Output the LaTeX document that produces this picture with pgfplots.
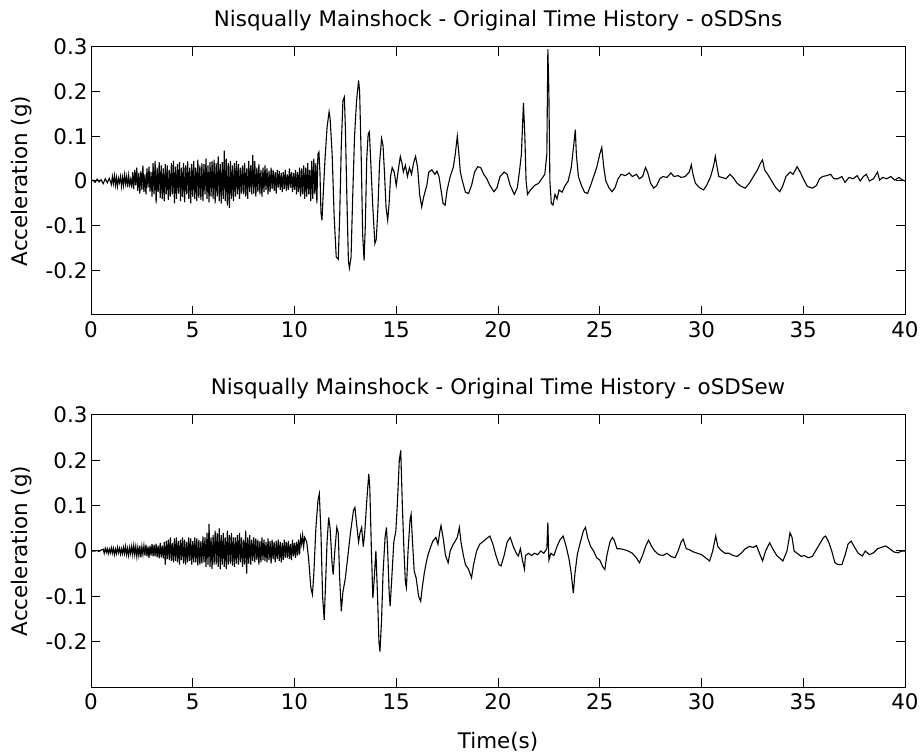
\documentclass[border=0pt]{standalone}
\usepackage{fontspec}
\setmainfont{DejaVu Sans}
\usepackage{pgfplots}
\pgfplotsset{compat=1.18}

\newcommand{\mfont}{\fontsize{21.5}{25}\selectfont}

\pgfplotsset{
  quake/.style={
    scale only axis, width=814bp, anchor=south west,
    xmin=0, xmax=40, ymin=-0.3, ymax=0.3,
    xtick={0,5,...,40}, ytick={-0.2,-0.1,0,0.1,0.2,0.3},
    axis line style={line width=1bp},
    tick align=inside, major tick length=9bp,
    tick style={draw=black, line width=1bp},
    tick label style={font=\mfont},
    /pgf/number format/assume math mode=true,
    xticklabel style={yshift=-3bp},
    label style={font=\mfont},
    title style={font=\mfont, yshift=7bp},
    ylabel={Acceleration (g)},
    ylabel style={at={(rel axis cs:0,0.5)}, anchor=center, yshift=69bp},
  },
  trace/.style={black, mark=none, line width=1.1bp},
}

\begin{document}
\begin{tikzpicture}
\path[use as bounding box] (0,0) rectangle (923bp,755bp);

% upper record: oSDSns
\begin{axis}[quake, at={(91bp,440bp)}, height=268bp,
  title={Nisqually Mainshock - Original Time History - oSDSns}]
\addplot[trace] coordinates {
(0,0)(0.1,0.002)(0.2,-0.003)(0.3,0.004)(0.4,-0.002)(0.5,0.003)(0.6,-0.006)(0.7,0.005)(0.8,-0.004)(0.9,0.006)
(1.00,-0.008)(1.05,0.010)(1.10,-0.006)(1.15,0.012)(1.20,-0.010)(1.25,0.008)(1.30,-0.012)(1.35,0.006)(1.40,-0.004)(1.45,0.010)
(1.50,-0.012)(1.55,0.008)(1.60,-0.010)(1.65,0.014)(1.70,-0.006)(1.75,0.010)(1.80,-0.014)(1.85,0.012)(1.90,-0.008)(1.95,0.004)
(2.00,-0.015)(2.05,0.020)(2.10,-0.018)(2.15,0.025)(2.20,-0.010)(2.25,0.030)(2.30,-0.022)(2.35,0.018)(2.40,-0.028)(2.45,0.022)
(2.50,-0.020)(2.55,0.035)(2.60,-0.025)(2.65,0.015)(2.70,-0.030)(2.75,0.028)(2.80,-0.015)(2.85,0.032)(2.90,-0.024)(2.95,0.020)
(3.00,-0.035)(3.05,0.040)(3.10,-0.030)(3.15,0.045)(3.20,-0.050)(3.25,0.030)(3.30,-0.025)(3.35,0.042)(3.40,-0.038)(3.45,0.035)
(3.50,-0.040)(3.55,0.028)(3.60,-0.045)(3.65,0.038)(3.70,-0.030)(3.75,0.035)(3.80,-0.042)(3.85,0.025)(3.90,-0.035)(3.95,0.040)
(4.00,-0.030)(4.05,0.045)(4.10,-0.050)(4.15,0.032)(4.20,-0.040)(4.25,0.038)(4.30,-0.028)(4.35,0.042)(4.40,-0.045)(4.45,0.030)
(4.50,-0.036)(4.55,0.040)(4.60,-0.048)(4.65,0.035)(4.70,-0.030)(4.75,0.044)(4.80,-0.040)(4.85,0.030)(4.90,-0.050)(4.95,0.038)
(5.00,-0.035)(5.05,0.045)(5.10,-0.040)(5.15,0.030)(5.20,-0.045)(5.25,0.048)(5.30,-0.038)(5.35,0.035)(5.40,-0.042)(5.45,0.040)
(5.50,-0.045)(5.55,0.038)(5.60,-0.030)(5.65,0.050)(5.70,-0.040)(5.75,0.035)(5.80,-0.048)(5.85,0.042)(5.90,-0.035)(5.95,0.045)
(6.00,-0.040)(6.05,0.048)(6.10,-0.050)(6.15,0.040)(6.20,-0.035)(6.25,0.055)(6.30,-0.045)(6.35,0.038)(6.40,-0.050)(6.45,0.042)
(6.50,-0.040)(6.55,0.068)(6.60,-0.045)(6.65,0.050)(6.70,-0.055)(6.75,0.040)(6.80,-0.060)(6.85,0.045)(6.90,-0.040)(6.95,0.035)
(7.00,-0.045)(7.05,0.040)(7.10,-0.035)(7.15,0.045)(7.20,-0.030)(7.25,0.038)(7.30,-0.040)(7.35,0.030)(7.40,-0.028)(7.45,0.035)
(7.50,-0.030)(7.55,0.040)(7.60,-0.035)(7.65,0.028)(7.70,-0.040)(7.75,0.045)(7.80,-0.025)(7.85,0.035)(7.90,-0.030)(7.95,0.058)
(8.00,-0.028)(8.05,0.045)(8.10,-0.035)(8.15,0.030)(8.20,-0.025)(8.25,0.038)(8.30,-0.030)(8.35,0.025)(8.40,-0.035)(8.45,0.030)
(8.50,-0.025)(8.55,0.035)(8.60,-0.020)(8.65,0.028)(8.70,-0.030)(8.75,0.022)(8.80,-0.025)(8.85,0.030)(8.90,-0.018)(8.95,0.025)
(9.00,-0.022)(9.05,0.020)(9.10,-0.028)(9.15,0.025)(9.20,-0.015)(9.25,0.022)(9.30,-0.020)(9.35,0.018)(9.40,-0.025)(9.45,0.020)
(9.50,-0.018)(9.55,0.025)(9.60,-0.022)(9.65,0.015)(9.70,-0.020)(9.75,0.028)(9.80,-0.015)(9.85,0.020)(9.90,-0.025)(9.95,0.018)
(10.00,-0.020)(10.05,0.025)(10.10,-0.030)(10.15,0.020)(10.20,-0.025)(10.25,0.030)(10.30,-0.035)(10.35,0.028)(10.40,-0.030)(10.45,0.035)
(10.50,-0.040)(10.55,0.030)(10.60,-0.035)(10.65,0.040)(10.70,-0.030)(10.75,0.025)(10.80,-0.045)(10.85,0.045)(10.90,-0.040)(10.95,0.050)
(11.00,-0.030)(11.05,0.040)(11.10,-0.050)(11.15,0.060)
(11.20,0.065)(11.25,0.020)(11.30,-0.070)(11.35,-0.088)(11.40,-0.040)(11.50,0.050)(11.60,0.120)(11.70,0.155)(11.75,0.140)
(11.85,0.060)(11.95,-0.080)(12.05,-0.170)(12.15,-0.175)(12.22,-0.080)(12.30,0.080)(12.38,0.180)(12.45,0.188)(12.50,0.120)
(12.58,-0.050)(12.65,-0.180)(12.70,-0.195)(12.78,-0.170)(12.85,-0.050)(12.95,0.100)(13.05,0.180)(13.15,0.225)(13.20,0.200)
(13.28,0.050)(13.35,-0.120)(13.42,-0.178)(13.48,-0.100)(13.55,0.050)(13.62,0.105)(13.68,0.110)(13.75,0.040)(13.85,-0.060)
(13.95,-0.140)(14.02,-0.130)(14.10,-0.060)(14.18,0.040)(14.28,0.095)(14.35,0.080)(14.42,0.020)(14.50,-0.060)(14.58,-0.088)
(14.65,-0.050)(14.72,0.010)(14.80,0.030)(14.90,0.020)(15.00,-0.010)(15.10,0.025)(15.20,0.055)(15.28,0.040)(15.35,0.020)
(15.45,0.035)(15.55,0.010)(15.65,0.030)(15.75,0.015)(15.85,0.040)(15.95,0.055)(16.05,0.030)(16.15,-0.030)(16.25,-0.058)
(16.35,-0.035)(16.50,-0.010)(16.60,0.020)(16.75,0.025)(16.90,0.015)(17.00,0.022)(17.10,0.010)(17.20,-0.020)(17.30,-0.050)
(17.40,-0.054)(17.50,-0.020)(17.65,0.010)(17.80,0.030)(17.90,0.060)(18.00,0.100)(18.08,0.060)(18.15,0.020)(18.25,0.000)
(18.40,-0.025)(18.55,-0.028)(18.70,-0.010)(18.85,0.020)(19.00,0.032)(19.15,0.030)(19.30,0.015)(19.45,0.005)(19.60,-0.010)
(19.80,-0.024)(19.95,-0.015)(20.10,0.010)(20.30,0.020)(20.45,0.015)(20.60,-0.010)(20.80,-0.030)(20.95,-0.015)(21.05,0.020)
(21.15,0.060)(21.25,0.175)(21.32,0.100)(21.38,0.000)(21.45,-0.030)(21.60,-0.020)(21.80,-0.010)(22.00,-0.005)(22.15,0.005)
(22.30,0.015)(22.40,0.060)(22.45,0.295)(22.50,0.200)(22.55,0.000)(22.62,-0.050)(22.70,-0.054)(22.80,-0.030)(22.90,-0.040)
(23.00,-0.020)(23.15,-0.025)(23.30,-0.010)(23.45,0.000)(23.60,0.030)(23.72,0.080)(23.80,0.115)(23.85,0.060)(23.95,0.010)
(24.10,-0.010)(24.25,-0.025)(24.40,-0.028)(24.55,-0.010)(24.70,0.010)(24.85,0.030)(25.00,0.060)(25.10,0.075)(25.20,0.030)
(25.30,0.000)(25.45,-0.015)(25.60,-0.024)(25.75,-0.015)(25.90,0.005)(26.05,0.015)(26.25,0.012)(26.45,0.018)(26.60,0.010)
(26.80,0.015)(26.95,0.005)(27.10,0.010)(27.25,0.030)(27.35,0.020)(27.50,-0.005)(27.65,-0.016)(27.80,-0.010)(27.95,0.005)
(28.10,0.010)(28.30,0.008)(28.50,0.018)(28.65,0.010)(28.85,0.012)(29.00,0.008)(29.20,0.010)(29.40,0.020)(29.50,0.036)
(29.58,0.015)(29.70,-0.005)(29.90,-0.015)(30.10,-0.020)(30.25,-0.010)(30.45,0.010)(30.60,0.035)(30.68,0.055)(30.75,0.035)
(30.85,0.010)(31.00,0.008)(31.20,0.005)(31.40,0.015)(31.55,0.008)(31.75,-0.005)(31.95,-0.012)(32.15,-0.016)(32.35,-0.005)
(32.55,0.010)(32.75,0.025)(32.90,0.040)(33.00,0.047)(33.10,0.025)(33.25,0.015)(33.45,0.000)(33.65,-0.015)(33.85,-0.024)
(34.00,-0.010)(34.15,0.010)(34.35,0.020)(34.50,0.015)(34.70,0.032)(34.85,0.020)(35.00,0.005)(35.20,-0.012)(35.45,-0.016)
(35.65,-0.010)(35.80,0.005)(35.95,0.010)(36.15,0.012)(36.35,0.015)(36.50,0.005)(36.70,0.005)(36.90,0.010)(37.05,-0.003)
(37.25,0.008)(37.45,0.005)(37.65,0.012)(37.80,0.000)(37.95,0.010)(38.10,0.015)(38.25,0.000)(38.45,0.005)(38.65,0.020)
(38.75,0.002)(38.90,0.008)(39.10,0.005)(39.30,0.010)(39.50,0.002)(39.70,0.008)(39.85,0.003)(40.00,0.000)
};
\end{axis}

% lower record: oSDSew
\begin{axis}[quake, at={(91bp,68bp)}, height=272bp,
  title={Nisqually Mainshock - Original Time History - oSDSew},
  xlabel={Time(s)},
  xlabel style={at={(rel axis cs:0.5,0)}, anchor=center, yshift=-55bp}]
\addplot[trace] coordinates {
(0,0)(0.1,0)(0.2,0)(0.3,0.001)(0.4,-0.001)(0.5,0.002)
(0.60,0.004)(0.65,-0.005)(0.70,0.006)(0.75,-0.003)(0.80,0.005)(0.85,-0.006)(0.90,0.004)(0.95,-0.004)(1.00,0.007)(1.05,-0.005)
(1.10,0.006)(1.15,-0.008)(1.20,0.004)(1.25,-0.006)(1.30,0.008)(1.35,-0.004)(1.40,0.006)(1.45,-0.007)(1.50,0.005)(1.55,-0.006)
(1.60,0.008)(1.65,-0.006)(1.70,0.010)(1.75,-0.008)(1.80,0.006)(1.85,-0.010)(1.90,0.008)(1.95,-0.006)(2.00,0.010)(2.05,-0.008)
(2.10,0.012)(2.15,-0.008)(2.20,0.010)(2.25,-0.012)(2.30,0.008)(2.35,-0.010)(2.40,0.012)(2.45,-0.014)(2.50,0.010)(2.55,-0.008)
(2.60,0.012)(2.65,-0.010)(2.70,0.014)(2.75,-0.012)(2.80,0.010)(2.85,-0.015)(2.90,0.012)(2.95,-0.010)(3.00,0.015)(3.05,-0.012)
(3.10,0.014)(3.15,-0.012)(3.20,0.016)(3.25,-0.014)(3.30,0.012)(3.35,-0.016)(3.40,0.018)(3.45,-0.014)(3.50,0.012)(3.55,-0.016)
(3.60,0.020)(3.65,-0.030)(3.70,0.022)(3.75,-0.018)(3.80,0.025)(3.85,-0.020)(3.90,0.030)(3.95,-0.022)(4.00,0.018)(4.05,-0.025)
(4.10,0.028)(4.15,-0.022)(4.20,0.030)(4.25,-0.025)(4.30,0.022)(4.35,-0.030)(4.40,0.025)(4.45,-0.020)(4.50,0.030)(4.55,-0.028)
(4.60,0.025)(4.65,-0.030)(4.70,0.020)(4.75,-0.025)(4.80,0.030)(4.85,-0.022)(4.90,0.028)(4.95,-0.030)(5.00,0.022)(5.05,-0.025)
(5.10,0.030)(5.15,-0.025)(5.20,0.028)(5.25,-0.032)(5.30,0.025)(5.35,-0.030)(5.40,0.022)(5.45,-0.028)(5.50,0.032)(5.55,-0.025)
(5.60,0.030)(5.65,-0.035)(5.70,0.040)(5.75,-0.030)(5.80,0.060)(5.85,-0.035)(5.90,0.030)(5.95,-0.040)(6.00,0.035)(6.05,-0.030)
(6.10,0.045)(6.15,-0.030)(6.20,0.040)(6.25,-0.035)(6.30,0.050)(6.35,-0.040)(6.40,0.035)(6.45,-0.030)(6.50,0.040)(6.55,-0.035)
(6.60,0.030)(6.65,-0.040)(6.70,0.045)(6.75,-0.030)(6.80,0.035)(6.85,-0.028)(6.90,0.040)(6.95,-0.032)(7.00,0.030)(7.05,-0.035)
(7.10,0.030)(7.15,-0.028)(7.20,0.035)(7.25,-0.030)(7.30,0.040)(7.35,-0.025)(7.40,0.030)(7.45,-0.035)(7.50,0.025)(7.55,-0.030)
(7.60,0.045)(7.65,-0.050)(7.70,0.030)(7.75,-0.028)(7.80,0.035)(7.85,-0.030)(7.90,0.025)(7.95,-0.022)(8.00,0.030)(8.05,-0.025)
(8.10,0.028)(8.15,-0.020)(8.20,0.025)(8.25,-0.030)(8.30,0.022)(8.35,-0.025)(8.40,0.030)(8.45,-0.020)(8.50,0.025)(8.55,-0.022)
(8.60,0.020)(8.65,-0.025)(8.70,0.028)(8.75,-0.020)(8.80,0.022)(8.85,-0.028)(8.90,0.025)(8.95,-0.018)(9.00,0.020)(9.05,-0.025)
(9.10,0.022)(9.15,-0.018)(9.20,0.025)(9.25,-0.022)(9.30,0.020)(9.35,-0.025)(9.40,0.018)(9.45,-0.020)(9.50,0.025)(9.55,-0.015)
(9.60,0.020)(9.65,-0.015)(9.70,0.022)(9.75,-0.018)(9.80,0.015)(9.85,-0.020)(9.90,0.025)(9.95,-0.012)(10.00,0.018)(10.05,-0.015)
(10.10,0.020)(10.15,-0.010)(10.20,0.025)(10.25,-0.008)(10.30,0.030)(10.35,0.015)(10.40,0.035)(10.45,0.010)
(10.50,0.030)(10.60,0.020)(10.70,-0.020)(10.80,-0.080)(10.88,-0.096)(10.95,-0.050)(11.05,0.050)(11.15,0.110)(11.22,0.126)
(11.30,0.040)(11.38,-0.100)(11.46,-0.152)(11.52,-0.080)(11.60,0.020)(11.68,0.074)(11.75,0.050)(11.85,-0.030)(11.90,-0.052)
(11.98,0.000)(12.08,0.052)(12.15,0.040)(12.22,-0.060)(12.30,-0.133)(12.38,-0.090)(12.50,-0.060)(12.60,-0.020)(12.75,0.040)
(12.90,0.090)(12.97,0.096)(13.05,0.060)(13.15,0.020)(13.22,0.040)(13.30,0.052)(13.38,0.010)(13.45,0.040)(13.55,0.110)
(13.65,0.170)(13.70,0.140)(13.78,0.000)(13.85,-0.104)(13.92,-0.060)(14.00,0.000)(14.08,-0.100)(14.15,-0.200)(14.20,-0.222)
(14.28,-0.150)(14.35,-0.050)(14.45,0.030)(14.52,0.052)(14.58,0.000)(14.65,-0.090)(14.70,-0.122)(14.78,-0.060)(14.88,0.020)
(14.98,0.044)(15.05,0.100)(15.15,0.200)(15.22,0.222)(15.30,0.100)(15.38,0.000)(15.45,-0.070)(15.50,-0.081)(15.58,0.000)
(15.68,0.070)(15.73,0.081)(15.80,0.020)(15.88,-0.044)(15.98,-0.060)(16.10,-0.100)(16.20,-0.111)(16.28,-0.080)(16.38,-0.048)
(16.50,-0.020)(16.57,-0.007)(16.70,0.010)(16.80,0.022)(16.95,0.030)(17.05,0.015)(17.15,0.045)(17.20,0.056)(17.30,0.030)
(17.42,-0.010)(17.55,-0.026)(17.65,0.000)(17.80,0.015)(17.90,0.022)(18.00,0.030)(18.10,0.052)(18.18,0.020)(18.30,-0.010)
(18.40,-0.030)(18.55,-0.040)(18.70,-0.059)(18.80,-0.030)(18.95,0.000)(19.10,0.015)(19.30,0.022)(19.45,0.028)(19.60,0.033)
(19.75,0.015)(19.90,-0.010)(20.05,-0.030)(20.15,-0.033)(20.30,-0.010)(20.45,0.020)(20.60,0.030)(20.75,0.010)(20.90,-0.005)
(21.00,-0.011)(21.10,0.005)(21.20,-0.020)(21.30,-0.040)(21.35,-0.010)(21.50,-0.005)(21.65,-0.010)(21.80,-0.005)(21.95,-0.008)
(22.10,0.000)(22.25,-0.005)(22.40,0.005)(22.45,0.063)(22.50,-0.020)(22.60,-0.005)(22.75,-0.010)(22.90,0.010)(23.05,0.025)
(23.20,0.033)(23.35,0.010)(23.50,-0.020)(23.60,-0.050)(23.70,-0.093)(23.78,-0.050)(23.90,-0.007)(24.05,0.020)(24.20,0.045)
(24.30,0.052)(24.40,0.030)(24.55,0.010)(24.70,0.000)(24.85,-0.015)(25.00,-0.020)(25.15,-0.035)(25.25,-0.041)(25.35,-0.010)
(25.50,0.020)(25.62,0.030)(25.70,0.025)(25.85,0.005)(26.00,0.005)(26.20,0.003)(26.40,0.000)(26.60,-0.005)(26.80,-0.015)
(26.95,-0.026)(27.10,-0.010)(27.25,0.010)(27.40,0.024)(27.55,0.010)(27.70,0.000)(27.90,-0.008)(28.10,-0.010)(28.30,-0.005)
(28.50,-0.012)(28.70,-0.015)(28.85,0.000)(29.00,0.020)(29.10,0.026)(29.25,0.005)(29.40,0.003)(29.60,-0.002)(29.80,-0.005)
(30.00,-0.008)(30.20,-0.015)(30.40,-0.022)(30.55,0.000)(30.70,0.033)(30.80,0.010)(30.95,0.002)(31.15,-0.005)(31.35,-0.005)
(31.55,-0.010)(31.75,-0.012)(31.95,-0.005)(32.15,0.005)(32.35,0.010)(32.55,0.008)(32.70,0.012)(32.85,-0.005)(33.00,-0.022)
(33.15,0.000)(33.35,0.018)(33.50,0.005)(33.70,-0.010)(33.90,-0.018)(34.00,-0.022)(34.20,0.000)(34.35,0.040)(34.45,0.030)
(34.55,0.000)(34.70,-0.005)(34.90,-0.012)(35.05,-0.010)(35.25,-0.015)(35.45,-0.012)(35.60,0.000)(35.80,0.015)(36.00,0.030)
(36.10,0.033)(36.25,0.020)(36.40,0.000)(36.55,-0.025)(36.70,-0.030)(36.90,-0.030)(37.05,-0.010)(37.20,0.015)(37.35,0.022)
(37.50,0.010)(37.70,-0.005)(37.90,-0.011)(38.05,0.000)(38.25,-0.008)(38.45,-0.004)(38.65,0.005)(38.85,0.008)(39.05,0.011)
(39.25,0.005)(39.45,-0.002)(39.65,-0.004)(39.85,0.000)(40.00,0.000)
};
\end{axis}

% inward ticks on all four sides of both frames, in page units
\foreach \x in {192.75,294.5,396.25,498,599.75,701.5,803.25} {
  \draw[black, line width=1bp] (\x bp,440bp) -- (\x bp,449bp) (\x bp,708bp) -- (\x bp,699bp);
  \draw[black, line width=1bp] (\x bp,68bp) -- (\x bp,77bp) (\x bp,340bp) -- (\x bp,331bp);
}
\foreach \y in {484.67,529.33,574,618.67,663.33,113.33,158.67,204,249.33,294.67} {
  \draw[black, line width=1bp] (91bp,\y bp) -- (100bp,\y bp) (905bp,\y bp) -- (896bp,\y bp);
}
\end{tikzpicture}
\end{document}
